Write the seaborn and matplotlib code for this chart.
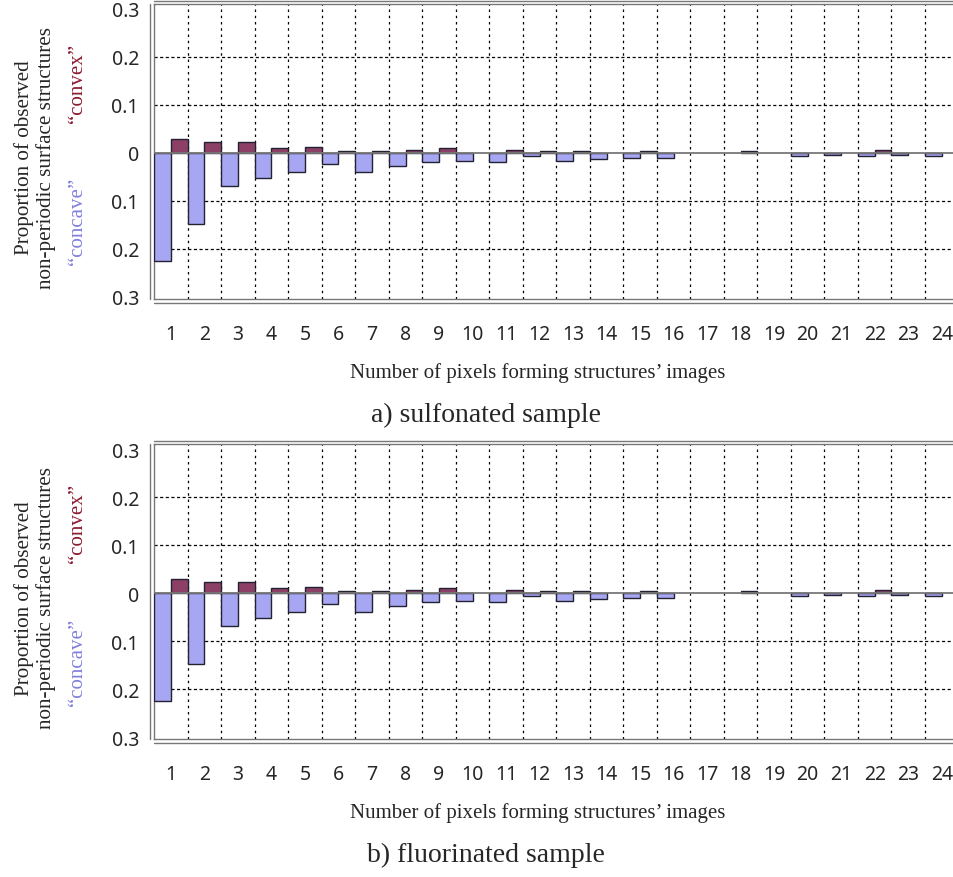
import numpy as np
import pandas as pd
import matplotlib.pyplot as plt
from matplotlib.lines import Line2D
from matplotlib import transforms
import seaborn as sns

# number of pixels forming a structure's image
pixels = list(range(1, 25))

# proportions (nan = no bar)
nan = np.nan
sulf_concave = [0.226, 0.147, 0.069, 0.052, 0.040, 0.023, 0.040, 0.027, 0.019, 0.017,
                0.019, 0.007, 0.017, 0.0125, 0.011, 0.011, nan, nan, nan, 0.007,
                0.005, 0.007, 0.004, 0.007]
sulf_convex = [0.029, 0.023, 0.023, 0.010, 0.013, 0.004, 0.004, 0.006, 0.010, nan,
               0.006, 0.004, 0.004, nan, 0.004, nan, nan, 0.004, nan, nan,
               nan, 0.006, nan, nan]
fluor_concave = list(sulf_concave)
fluor_convex = list(sulf_convex)

y_ticks = [-0.3, -0.2, -0.1, 0, 0.1, 0.2, 0.3]
y_ticklabels = ["0.3", "0.2", "0.1", "0", "0.1", "0.2", "0.3"]

CONCAVE = "#9999FF"
CONVEX = "#993366"
SERIF = ["Liberation Serif", "DejaVu Serif"]
SANS = ["Noto Sans", "DejaVu Sans"]

sns.set_style("white")
plt.rcParams["font.family"] = SANS


def double_line(ax, x0, y0, x1, y1, dx, dy):
    # second thin line shifted by (dx, dy) points to mimic the doubled frame
    fig = ax.figure
    off = transforms.ScaledTranslation(dx / 72, dy / 72, fig.dpi_scale_trans)
    ax.add_line(Line2D([x0, x1], [y0, y1], transform=ax.transAxes + off,
                       color="#777777", lw=1.0, clip_on=False))


def draw_panel(ax, concave, convex, caption):
    df = pd.DataFrame({
        "pixels": pixels * 2,
        "value": [-v for v in concave] + list(convex),
        "kind": ["concave"] * len(pixels) + ["convex"] * len(pixels),
    }).dropna()

    sns.barplot(data=df, x="pixels", y="value", hue="kind", order=pixels,
                hue_order=["concave", "convex"],
                palette={"concave": CONCAVE, "convex": CONVEX},
                width=1.0, dodge=True, errorbar=None, edgecolor="#222233",
                linewidth=1.0, legend=False, ax=ax, zorder=3)

    ax.set_xlim(-0.5, len(pixels) - 0.5)
    ax.set_ylim(-0.305, 0.31)

    # grid: dotted verticals at cell borders, dashed horizontals
    ax.set_xticks(np.arange(0.5, len(pixels) - 1, 1.0), minor=True)
    ax.grid(True, which="minor", axis="x", color="black", linestyle=(0, (2, 3)), lw=0.9)
    for yv in [-0.2, -0.1, 0.1, 0.2]:
        ax.axhline(yv, color="black", linestyle=(0, (2.5, 2)), lw=0.9, zorder=1)
    ax.axhline(0, color="#777777", lw=1.3, zorder=4)

    ax.set_yticks(y_ticks)
    ax.set_yticklabels(y_ticklabels)
    ax.tick_params(axis="y", length=0, pad=11, labelsize=14)
    ax.tick_params(axis="x", which="both", length=0, pad=18, labelsize=14)

    for s in ["left", "top", "bottom"]:
        ax.spines[s].set_color("#777777")
        ax.spines[s].set_linewidth(1.0)
    ax.spines["right"].set_visible(False)
    double_line(ax, 0, 0, 0, 1, -3, 0)
    double_line(ax, 0, 1, 1, 1, 0, 2.5)
    double_line(ax, 0, 0, 1, 0, 0, -2.5)

    ax.set_xlabel("Number of pixels forming structures\u2019 images",
                  family=SERIF, fontsize=15)
    ax.xaxis.set_label_coords(0.477, -0.212)
    ax.set_ylabel("")

    # stacked y-axis captions
    ax.text(-0.162, 0.482, "Proportion of observed", transform=ax.transAxes,
            rotation=90, ha="center", va="center", family=SERIF, fontsize=15.2)
    ax.text(-0.135, 0.482, "non-periodic surface structures", transform=ax.transAxes,
            rotation=90, ha="center", va="center", family=SERIF, fontsize=15.2)
    ax.text(-0.0948, 0.735, "\u201cconvex\u201d", transform=ax.transAxes,
            rotation=90, ha="center", va="center", family=SERIF, fontsize=15,
            color="#8B1A2E")
    ax.text(-0.0948, 0.266, "\u201cconcave\u201d", transform=ax.transAxes,
            rotation=90, ha="center", va="center", family=SERIF, fontsize=15,
            color="#8080DD")

    ax.text(0.4127, -0.39, caption, transform=ax.transAxes, ha="center", va="center",
            family=SERIF, fontsize=20)


fig = plt.figure(figsize=(9.54, 8.78), dpi=100)
ax_a = fig.add_axes([0.1616, 0.6579, 0.8431, 0.3362])
ax_b = fig.add_axes([0.1616, 0.1567, 0.8431, 0.3362])

draw_panel(ax_a, sulf_concave, sulf_convex, "a) sulfonated sample")
draw_panel(ax_b, fluor_concave, fluor_convex, "b) fluorinated sample")

fig.savefig("out.png", dpi=100)
